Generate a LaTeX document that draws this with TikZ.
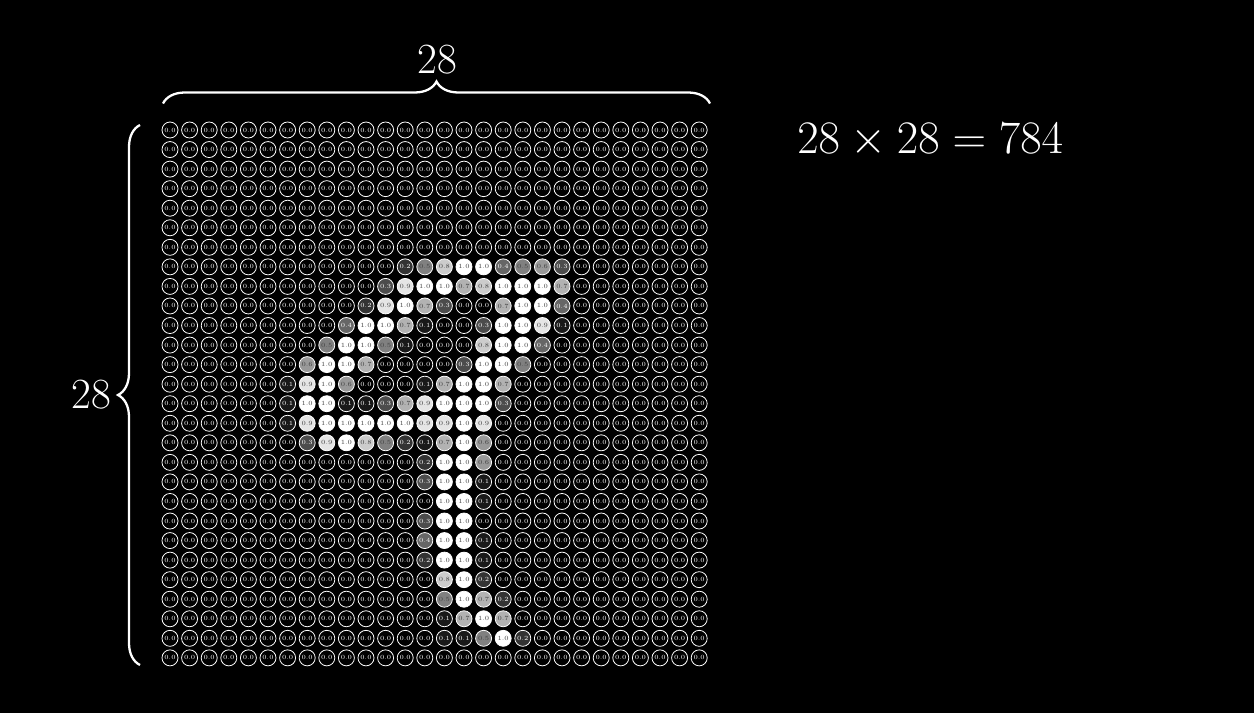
\RequirePackage{fix-cm}
\documentclass[tikz,border=0pt]{standalone}
\usetikzlibrary{decorations.pathreplacing, positioning}

% one row of pixels: row index, then 28 values in tenths
\newcommand{\pixrow}[2]{%
  \foreach \v [count=\c from 0] in {#2} {%
    \ifnum\v>4 \def\tc{black!75}\else\def\tc{white!60}\fi
    \node[pixel, fill=white!\v0!black, text=\tc] (p-#1-\c) at ({3.4+0.392*\c},{-2.6-0.391*#1}) {\ifnum\v=10 1.0\else 0.\v\fi};
  }%
}

\begin{document}
\begin{tikzpicture}[
    pixel/.style={circle, draw=white!50, line width=0.45pt, minimum size=0.32cm, inner sep=0pt, font=\fontsize{3.6}{4}\selectfont},
    bracket/.style={draw=white, line width=1.3pt, decorate, decoration={brace, amplitude=0.44cm}},
    label/.style={text=white, font=\fontsize{24.5}{29}\selectfont}
]

% Background
\fill[black] (0,0) rectangle (25.08,-14.26);
\useasboundingbox (0,0) rectangle (25.08,-14.26);

% Pixel grid
\pixrow{0}{0,0,0,0,0,0,0,0,0,0,0,0,0,0,0,0,0,0,0,0,0,0,0,0,0,0,0,0}
\pixrow{1}{0,0,0,0,0,0,0,0,0,0,0,0,0,0,0,0,0,0,0,0,0,0,0,0,0,0,0,0}
\pixrow{2}{0,0,0,0,0,0,0,0,0,0,0,0,0,0,0,0,0,0,0,0,0,0,0,0,0,0,0,0}
\pixrow{3}{0,0,0,0,0,0,0,0,0,0,0,0,0,0,0,0,0,0,0,0,0,0,0,0,0,0,0,0}
\pixrow{4}{0,0,0,0,0,0,0,0,0,0,0,0,0,0,0,0,0,0,0,0,0,0,0,0,0,0,0,0}
\pixrow{5}{0,0,0,0,0,0,0,0,0,0,0,0,0,0,0,0,0,0,0,0,0,0,0,0,0,0,0,0}
\pixrow{6}{0,0,0,0,0,0,0,0,0,0,0,0,0,0,0,0,0,0,0,0,0,0,0,0,0,0,0,0}
\pixrow{7}{0,0,0,0,0,0,0,0,0,0,0,0,2,5,8,10,10,4,5,6,3,0,0,0,0,0,0,0}
\pixrow{8}{0,0,0,0,0,0,0,0,0,0,0,3,9,10,10,7,8,10,10,10,7,0,0,0,0,0,0,0}
\pixrow{9}{0,0,0,0,0,0,0,0,0,0,2,9,10,7,3,0,0,7,10,10,4,0,0,0,0,0,0,0}
\pixrow{10}{0,0,0,0,0,0,0,0,0,4,10,10,7,1,0,0,3,10,10,9,1,0,0,0,0,0,0,0}
\pixrow{11}{0,0,0,0,0,0,0,0,5,10,10,5,1,0,0,0,8,10,10,4,0,0,0,0,0,0,0,0}
\pixrow{12}{0,0,0,0,0,0,0,6,10,10,7,0,0,0,0,3,10,10,5,0,0,0,0,0,0,0,0,0}
\pixrow{13}{0,0,0,0,0,0,1,9,10,6,0,0,0,1,7,10,10,7,0,0,0,0,0,0,0,0,0,0}
\pixrow{14}{0,0,0,0,0,0,1,10,10,1,1,3,7,9,10,10,10,3,0,0,0,0,0,0,0,0,0,0}
\pixrow{15}{0,0,0,0,0,0,1,9,10,10,10,10,10,9,9,10,9,0,0,0,0,0,0,0,0,0,0,0}
\pixrow{16}{0,0,0,0,0,0,0,3,9,10,8,5,2,1,7,10,6,0,0,0,0,0,0,0,0,0,0,0}
\pixrow{17}{0,0,0,0,0,0,0,0,0,0,0,0,0,2,10,10,6,0,0,0,0,0,0,0,0,0,0,0}
\pixrow{18}{0,0,0,0,0,0,0,0,0,0,0,0,0,3,10,10,1,0,0,0,0,0,0,0,0,0,0,0}
\pixrow{19}{0,0,0,0,0,0,0,0,0,0,0,0,0,0,10,10,1,0,0,0,0,0,0,0,0,0,0,0}
\pixrow{20}{0,0,0,0,0,0,0,0,0,0,0,0,0,3,10,10,0,0,0,0,0,0,0,0,0,0,0,0}
\pixrow{21}{0,0,0,0,0,0,0,0,0,0,0,0,0,4,10,10,1,0,0,0,0,0,0,0,0,0,0,0}
\pixrow{22}{0,0,0,0,0,0,0,0,0,0,0,0,0,2,10,10,1,0,0,0,0,0,0,0,0,0,0,0}
\pixrow{23}{0,0,0,0,0,0,0,0,0,0,0,0,0,0,8,10,2,0,0,0,0,0,0,0,0,0,0,0}
\pixrow{24}{0,0,0,0,0,0,0,0,0,0,0,0,0,0,5,10,7,2,0,0,0,0,0,0,0,0,0,0}
\pixrow{25}{0,0,0,0,0,0,0,0,0,0,0,0,0,0,1,7,10,7,0,0,0,0,0,0,0,0,0,0}
\pixrow{26}{0,0,0,0,0,0,0,0,0,0,0,0,0,0,1,1,5,10,2,0,0,0,0,0,0,0,0,0}
\pixrow{27}{0,0,0,0,0,0,0,0,0,0,0,0,0,0,0,0,0,0,0,0,0,0,0,0,0,0,0,0}

% Braces
\coordinate (topL) at (3.26,-2.07);
\coordinate (topR) at (14.2,-2.07);
\coordinate (sideB) at (2.8,-13.3);
\coordinate (sideT) at (2.8,-2.5);
\draw[bracket] (topL) -- (topR);
\draw[bracket] (sideB) -- (sideT);

\node[label] (wide) at (8.74,-1.2) {28};
\node[label] (tall) at (1.82,-7.9) {28};

% Count
\node[text=white, font=\fontsize{26.5}{32}\selectfont, anchor=west, inner sep=0pt] (total) at (15.94,-2.8) {$28 \times 28 = 784$};

\end{tikzpicture}
\end{document}
